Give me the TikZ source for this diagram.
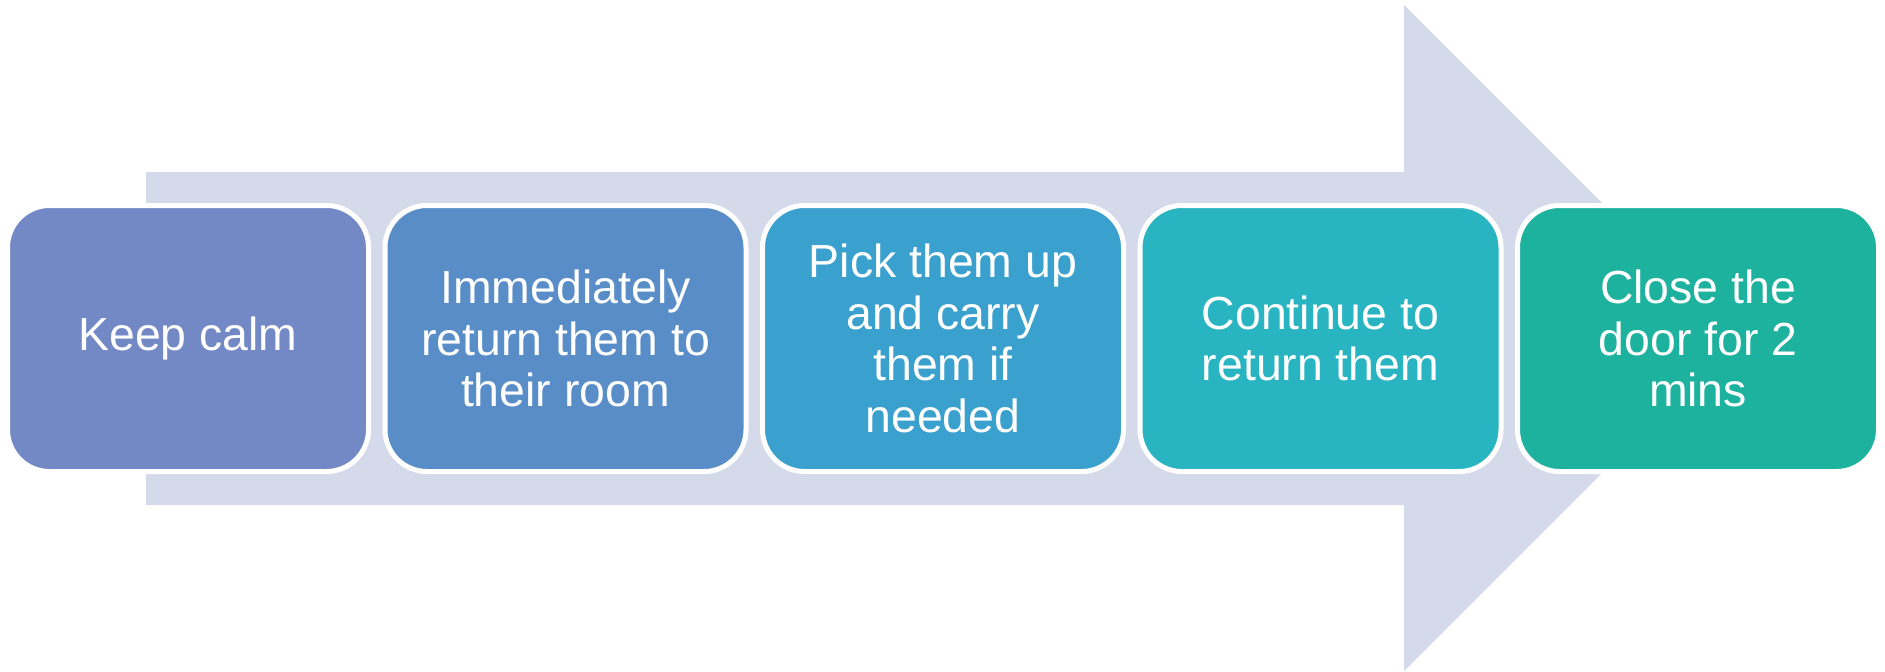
\documentclass[tikz,border=0pt]{standalone}
\usepackage{fontspec}
\setmainfont{Liberation Sans}
\definecolor{arrowbg}{RGB}{213,218,234}
\definecolor{stepA}{RGB}{115,137,198}
\definecolor{stepB}{RGB}{88,141,200}
\definecolor{stepC}{RGB}{58,160,206}
\definecolor{stepD}{RGB}{41,180,193}
\definecolor{stepE}{RGB}{28,178,158}
\tikzset{
  stepbox/.style={rectangle, rounded corners=21pt, draw=white, line width=2.5pt,
    minimum width=180.5pt, minimum height=133pt, inner sep=0pt,
    align=center, text=white,
    font=\fontsize{23.2pt}{25.9pt}\selectfont}
}
\begin{document}
\begin{tikzpicture}[x=0.5pt, y=-0.5pt]
  \useasboundingbox (0,0) rectangle (1885,671);
  % large background arrow
  \fill[arrowbg] (146,172) -- (1404,172) -- (1404,5) -- (1737,338)
    -- (1404,671) -- (1404,505) -- (146,505) -- cycle;
  % process steps
  \node[stepbox, fill=stepA] (b1) at (188,338.5) {Keep calm};
  \node[stepbox, fill=stepB] (b2) at (565.5,338.5) {Immediately\\return them to\\their room};
  \node[stepbox, fill=stepC] (b3) at (943,338.5) {Pick them up\\and carry\\them if\\needed};
  \node[stepbox, fill=stepD] (b4) at (1320.5,338.5) {Continue to\\return them};
  \node[stepbox, fill=stepE] (b5) at (1698,338.5) {Close the\\door for 2\\mins};
\end{tikzpicture}
\end{document}
